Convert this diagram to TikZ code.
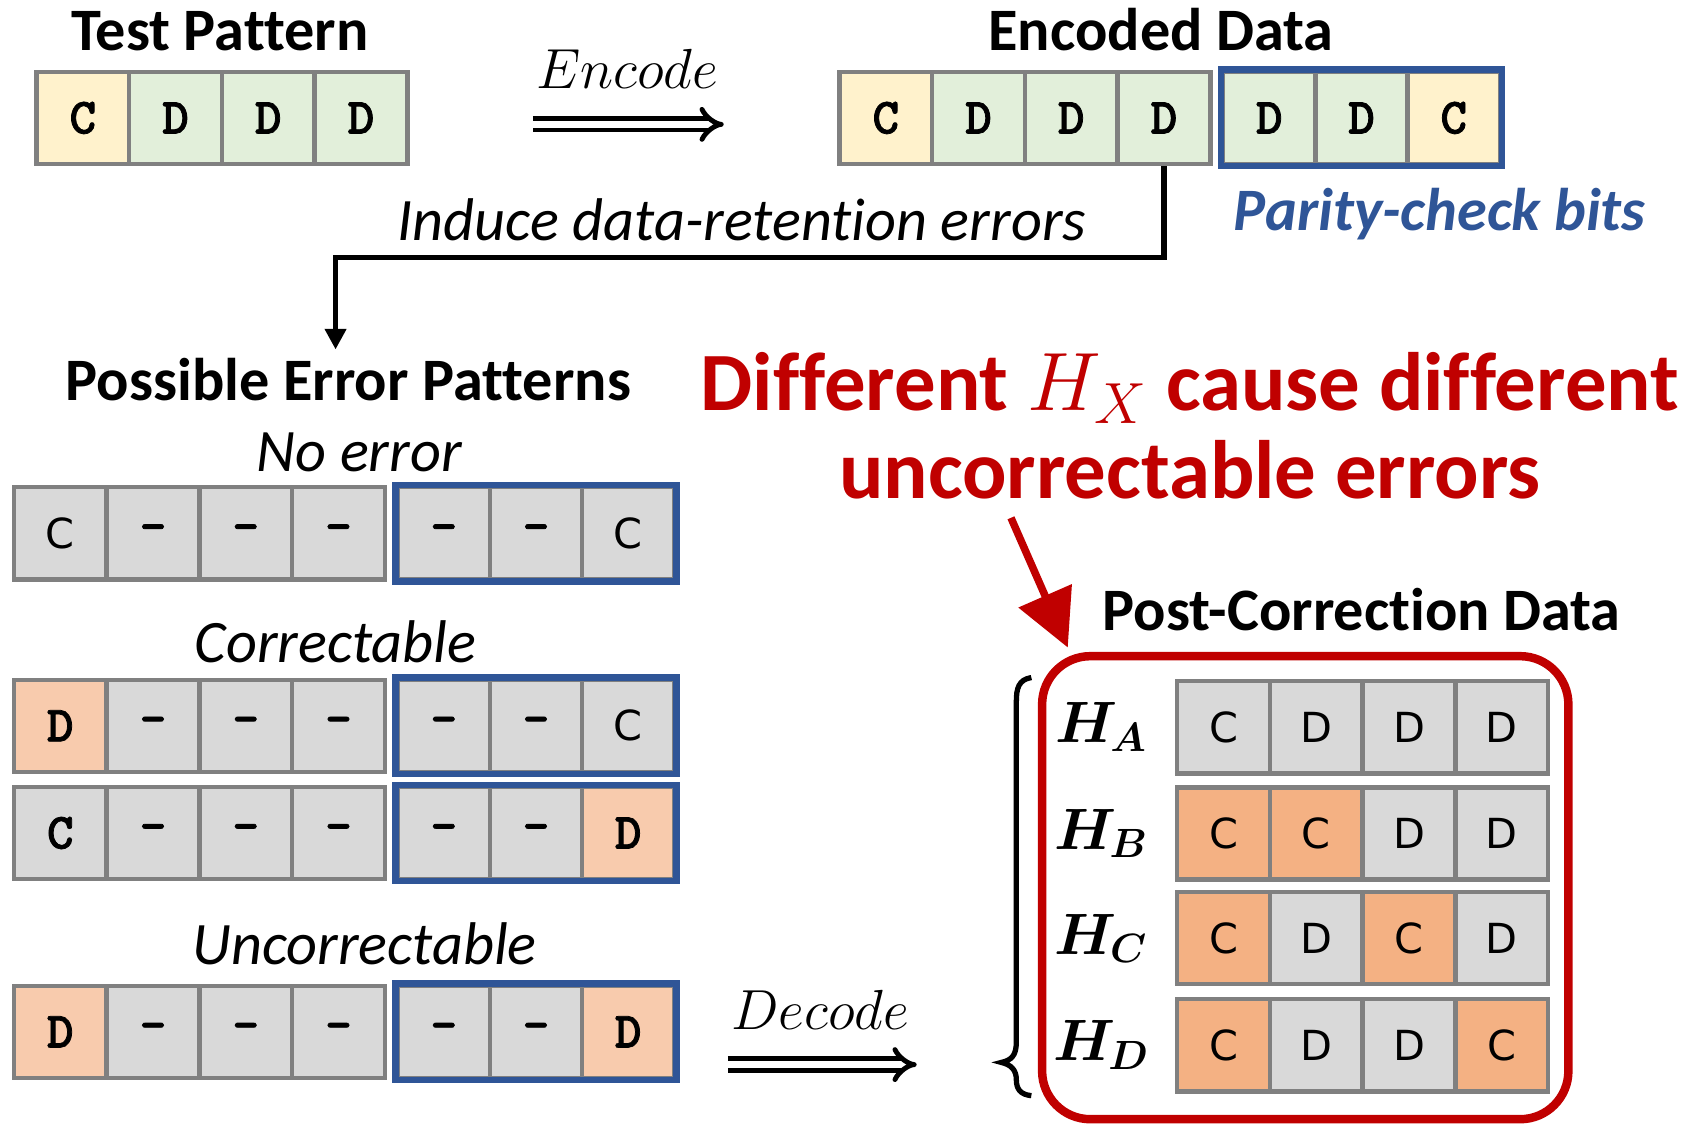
\RequirePackage{fix-cm}
\documentclass[tikz,border=0pt]{standalone}
\usepackage{fontspec}
\usepackage{amsmath}
\setmainfont{Carlito}[Ligatures=NoCommon]
\newfontfamily\cellsans{DejaVu Sans}
\newfontfamily\cellmono{lmmonolt10-bold.otf}[FakeBold=1.5]
\usetikzlibrary{arrows.meta,fit}
\definecolor{cy}{HTML}{FFF2CC}
\definecolor{cg}{HTML}{E2EFDA}
\definecolor{cgr}{HTML}{D9D9D9}
\definecolor{co}{HTML}{F8CBAD}
\definecolor{cod}{HTML}{F4B183}
\definecolor{cbd}{HTML}{808080}
\definecolor{cblue}{HTML}{2F5597}
\definecolor{cred}{HTML}{C00000}
\tikzset{
  cellbox/.style={draw=cbd, line width=2.3pt, minimum width=1.73cm, minimum height=1.72cm,
    inner sep=0pt, font=\cellmono\fontsize{27}{27}\selectfont},
  bluebox/.style={draw=cblue, line width=3.4pt, inner sep=0pt},
  title/.style={font=\bfseries\fontsize{32}{36}\selectfont, anchor=base, inner sep=0pt},
  itlabel/.style={font=\itshape\fontsize{32}{36}\selectfont, anchor=base, inner sep=0pt},
  conn/.style={line width=2.8pt, -{Triangle[length=11pt,width=11pt]}},
  dblarrow/.style={double, line width=2.6pt, double distance=3.4pt, -{Implies}},
  hlabel/.style={font=\fontsize{31}{34}\selectfont, anchor=base, inner sep=0pt},
}
\newcommand\hsub[1]{$\boldsymbol{H}_{\!\boldsymbol{#1}}$}
\newcommand\patrow[5]{%
  \foreach \l/\f [count=\i] in {#4} \node[cellbox, fill=\f] (#1d\i) at ({#2+2+86.5*(\i-0.5)},#3) {\l};
  \foreach \l/\f [count=\i] in {#5} \node[cellbox, fill=\f, minimum width=1.72cm] (#1p\i) at ({#2+357+3+86*(\i-0.5)},#3) {\l};
  \node[bluebox, fit=(#1p1)(#1p3)] (#1pb) {};
}
\newcommand\gridrow[3]{%
  \foreach \l/\f [count=\i] in {#3} \node[cellbox, fill=\f, font=\cellsans\fontsize{22}{22}\selectfont] (#1\i) at ({1098+86.5*(\i-0.5)},#2) {\l};
}
\newcommand\sC{{\cellsans\mdseries\fontsize{22}{22}\selectfont C}}
\begin{document}
\begin{tikzpicture}[x=0.02cm, y=-0.02cm]
\useasboundingbox (0,0) rectangle (1568,1052);

% ---- top ----
\node[title] (tptitle) at (205,47) {Test Pattern};
\foreach \l/\f [count=\i] in {C/cy, D/cg, D/cg, D/cg}
  \node[cellbox, fill=\f] (tp\i) at ({34+86.5*(\i-0.5)},110) {\l};

\node[hlabel, font=\fontsize{30}{34}\selectfont] (enc) at (585,83) {$Encode$};
\coordinate (encA) at (497,116);
\coordinate (encB) at (675,116);
\draw[dblarrow] (encA) -- (encB);

\node[title] (edtitle) at (1083,47) {Encoded Data};
\patrow{e}{781}{110}{C/cy, D/cg, D/cg, D/cg}{D/cg, D/cg, C/cy}
\node[title, font=\bfseries\itshape\fontsize{32}{36}\selectfont, text=cblue] (pcb) at (1343,215) {Parity-check bits};

\node[itlabel] (induce) at (692,224) {Induce data-retention errors};
\coordinate (elbow) at (313,240);
\coordinate (errin) at (313,326);
\draw[conn] (ed4.south) |- (elbow) -- (errin);

% ---- left ----
\node[title] (peptitle) at (325,374) {Possible Error Patterns};
\node[itlabel] (noerr) at (335,440) {No error};
\patrow{a}{11}{497.5}{\sC/cgr, -/cgr, -/cgr, -/cgr}{-/cgr, -/cgr, \sC/cgr}
\node[itlabel] (corr) at (313,618) {Correctable};
\patrow{b}{11}{677}{D/co, -/cgr, -/cgr, -/cgr}{-/cgr, -/cgr, \sC/cgr}
\patrow{c}{11}{777}{C/cgr, -/cgr, -/cgr, -/cgr}{-/cgr, -/cgr, D/co}
\node[itlabel] (uncorr) at (340,900) {Uncorrectable};
\patrow{u}{11}{962.5}{D/co, -/cgr, -/cgr, -/cgr}{-/cgr, -/cgr, D/co}

\node[hlabel, font=\fontsize{30}{34}\selectfont] (dec) at (765,960) {$Decode$};
\coordinate (decA) at (679,993);
\coordinate (decB) at (855,993);
\draw[dblarrow] (decA) -- (decB);

% ---- right ----
\node[title, font=\bfseries\fontsize{44}{50}\selectfont, text=cred] (red1) at (1110,383)
  {Different $H_X$ cause different};
\node[title, font=\bfseries\fontsize{44}{50}\selectfont, text=cred] (red2) at (1110,465)
  {uncorrectable errors};
\node[title] (pcdtitle) at (1270,588) {Post-Correction Data};

\node[draw=cred, line width=4.5pt, rounded corners=0.9cm, minimum width=9.82cm,
  minimum height=8.64cm, inner sep=0pt] (pcbox) at (1217.5,828) {};
\coordinate (redA) at (943,483);
\coordinate (redB) at (996,604);
\draw[cred, line width=4pt, -{Triangle[length=30pt,width=30pt]}] (redA) -- (redB);

\draw[line width=2.8pt] (962,632) .. controls (950,634) and (948,642) .. (948,655)
  -- (948,972) .. controls (948,985) and (943,989) .. (934,991)
  .. controls (943,993) and (948,998) .. (948,1007)
  .. controls (948,1016) and (952,1021) .. (962,1022);

\node[hlabel] (ha) at (1027,693) {\hsub{A}};
\node[hlabel] (hb) at (1027,792) {\hsub{B}};
\node[hlabel] (hc) at (1027,890) {\hsub{C}};
\node[hlabel] (hd) at (1027,989) {\hsub{D}};

\gridrow{ga}{678.5}{C/cgr, D/cgr, D/cgr, D/cgr}
\gridrow{gb}{777.5}{C/cod, C/cod, D/cgr, D/cgr}
\gridrow{gc}{875}{C/cod, D/cgr, C/cod, D/cgr}
\gridrow{gd}{975}{C/cod, D/cgr, D/cgr, C/cod}
\end{tikzpicture}
\end{document}
